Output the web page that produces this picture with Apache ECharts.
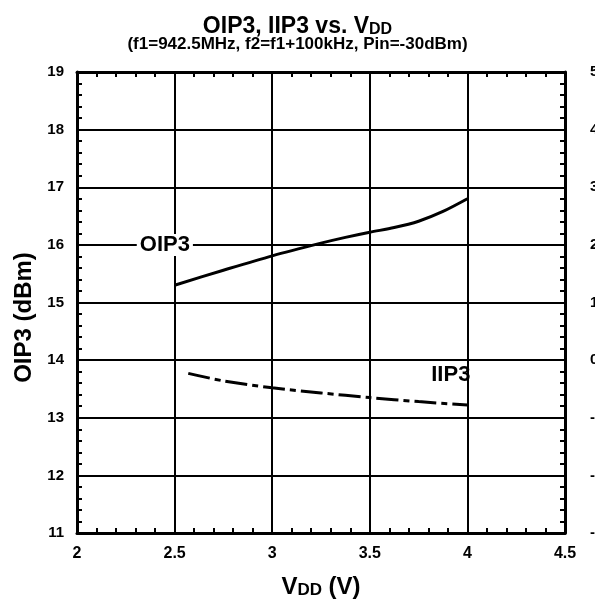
<!DOCTYPE html>
<html>
<head>
<meta charset="utf-8">
<script src="https://cdn.jsdelivr.net/npm/echarts@6/dist/echarts.min.js"></script>
<style>
  html, body { margin: 0; padding: 0; background: #fff; }
  #chart { width: 595px; height: 600px; }
</style>
</head>
<body>
<div id="chart"></div>
<script>
// VDD sweep (V) and the curves
const oip3Vdd = [2.5, 2.75, 3.0, 3.25, 3.375, 3.5, 3.625, 3.75, 3.875, 4.0]
const oip3Val = [15.30, 15.56, 15.81, 16.03, 16.13, 16.22, 16.30, 16.41, 16.58, 16.80]
// IIP3 is on the right axis (dBm)
const iip3Vdd = [2.57, 2.75, 3.0, 3.25, 3.5, 3.75, 4.0]
const iip3Val = [-0.23, -0.36, -0.48, -0.57, -0.65, -0.72, -0.78]
// where the curve names sit
const oip3LabelAt = [2.45, 16.0]
const iip3LabelAt = [3.915, -0.26]

const font = 'Liberation Sans, Arial, sans-serif'

function toPairs(xs, ys) {
  return xs.map((x, i) => [x, ys[i]])
}

const chart = echarts.init(document.getElementById('chart'))

// minor ticks point inward (direction comes from axisTick.inside)
const minorTick = {
  show: true,
  splitNumber: 5,
  length: 5,
  lineStyle: { color: '#000', width: 2 }
}
const axisTick = { show: false, inside: true }

const option = {
  animation: false,
  backgroundColor: '#fff',
  title: [
    {
      text: '{a|OIP3, IIP3 vs. V}{b|DD}',
      left: 'center',
      top: 9,
      textStyle: {
        rich: {
          a: { fontFamily: font, fontWeight: 'bold', fontSize: 23, color: '#000', verticalAlign: 'bottom', lineHeight: 24 },
          b: { fontFamily: font, fontWeight: 'bold', fontSize: 16, color: '#000', verticalAlign: 'bottom', lineHeight: 21 }
        }
      }
    },
    {
      text: '(f1=942.5MHz, f2=f1+100kHz, Pin=-30dBm)',
      left: 'center',
      top: 31,
      textStyle: { fontFamily: font, fontWeight: 'bold', fontSize: 17, color: '#000' }
    }
  ],
  grid: { left: 77, right: 30, top: 72, bottom: 67, outerBoundsMode: 'none' },
  xAxis: [
    {
      type: 'value',
      min: 2,
      max: 4.5,
      interval: 0.5,
      name: '{a|V}{b|DD}{a| (V)}',
      nameLocation: 'middle',
      nameGap: 41,
      nameTextStyle: {
        rich: {
          a: { fontFamily: font, fontWeight: 'bold', fontSize: 24, color: '#000', verticalAlign: 'bottom', lineHeight: 25 },
          b: { fontFamily: font, fontWeight: 'bold', fontSize: 17, color: '#000', verticalAlign: 'bottom', lineHeight: 22 }
        }
      },
      axisLine: { onZero: false, lineStyle: { color: '#000', width: 3 } },
      axisTick: axisTick,
      minorTick: minorTick,
      axisLabel: { fontFamily: font, fontWeight: 'bold', fontSize: 16, color: '#000', margin: 13 },
      splitLine: { show: true, lineStyle: { color: '#000', width: 2 } }
    },
    {
      type: 'value',
      position: 'top',
      min: 2,
      max: 4.5,
      interval: 0.5,
      axisLine: { onZero: false, lineStyle: { color: '#000', width: 3 } },
      axisTick: axisTick,
      minorTick: minorTick,
      axisLabel: { show: false },
      splitLine: { show: false }
    }
  ],
  yAxis: [
    {
      type: 'value',
      min: 11,
      max: 19,
      interval: 1,
      name: 'OIP3 (dBm)',
      nameLocation: 'middle',
      nameGap: 38,
      nameTextStyle: { fontFamily: font, fontWeight: 'bold', fontSize: 24, color: '#000', padding: [0, 30, 0, 0] },
      axisLine: { show: true, onZero: false, lineStyle: { color: '#000', width: 3 } },
      axisTick: axisTick,
      minorTick: minorTick,
      axisLabel: { fontFamily: font, fontWeight: 'bold', fontSize: 15, color: '#000', margin: 13 },
      splitLine: { show: true, lineStyle: { color: '#000', width: 2 } }
    },
    {
      type: 'value',
      position: 'right',
      min: -3,
      max: 5,
      interval: 1,
      axisLine: { show: true, onZero: false, lineStyle: { color: '#000', width: 3 } },
      axisTick: axisTick,
      minorTick: minorTick,
      axisLabel: { fontFamily: font, fontWeight: 'bold', fontSize: 15, color: '#000', margin: 25, align: 'left' },
      splitLine: { show: false }
    }
  ],
  series: [
    {
      name: 'OIP3',
      type: 'line',
      xAxisIndex: 0,
      yAxisIndex: 0,
      data: toPairs(oip3Vdd, oip3Val),
      smooth: 0.3,
      showSymbol: false,
      lineStyle: { color: '#000', width: 3 },
      markPoint: {
        symbol: 'circle',
        symbolSize: 0,
        data: [{ coord: oip3LabelAt, value: 'OIP3' }],
        label: {
          show: true,
          position: 'inside',
          formatter: 'OIP3',
          fontFamily: font, fontWeight: 'bold', fontSize: 22, color: '#000',
          backgroundColor: '#fff',
          padding: [0, 3]
        }
      }
    },
    {
      name: 'IIP3',
      type: 'line',
      xAxisIndex: 0,
      yAxisIndex: 1,
      data: toPairs(iip3Vdd, iip3Val),
      smooth: 0.3,
      showSymbol: false,
      lineStyle: { color: '#000', width: 3, type: [22, 5, 6, 5] },
      markPoint: {
        symbol: 'circle',
        symbolSize: 0,
        data: [{ coord: iip3LabelAt, value: 'IIP3' }],
        label: {
          show: true,
          position: 'inside',
          formatter: 'IIP3',
          fontFamily: font, fontWeight: 'bold', fontSize: 22, color: '#000'
        }
      }
    }
  ]
}

option && chart.setOption(option)
</script>
</body>
</html>
